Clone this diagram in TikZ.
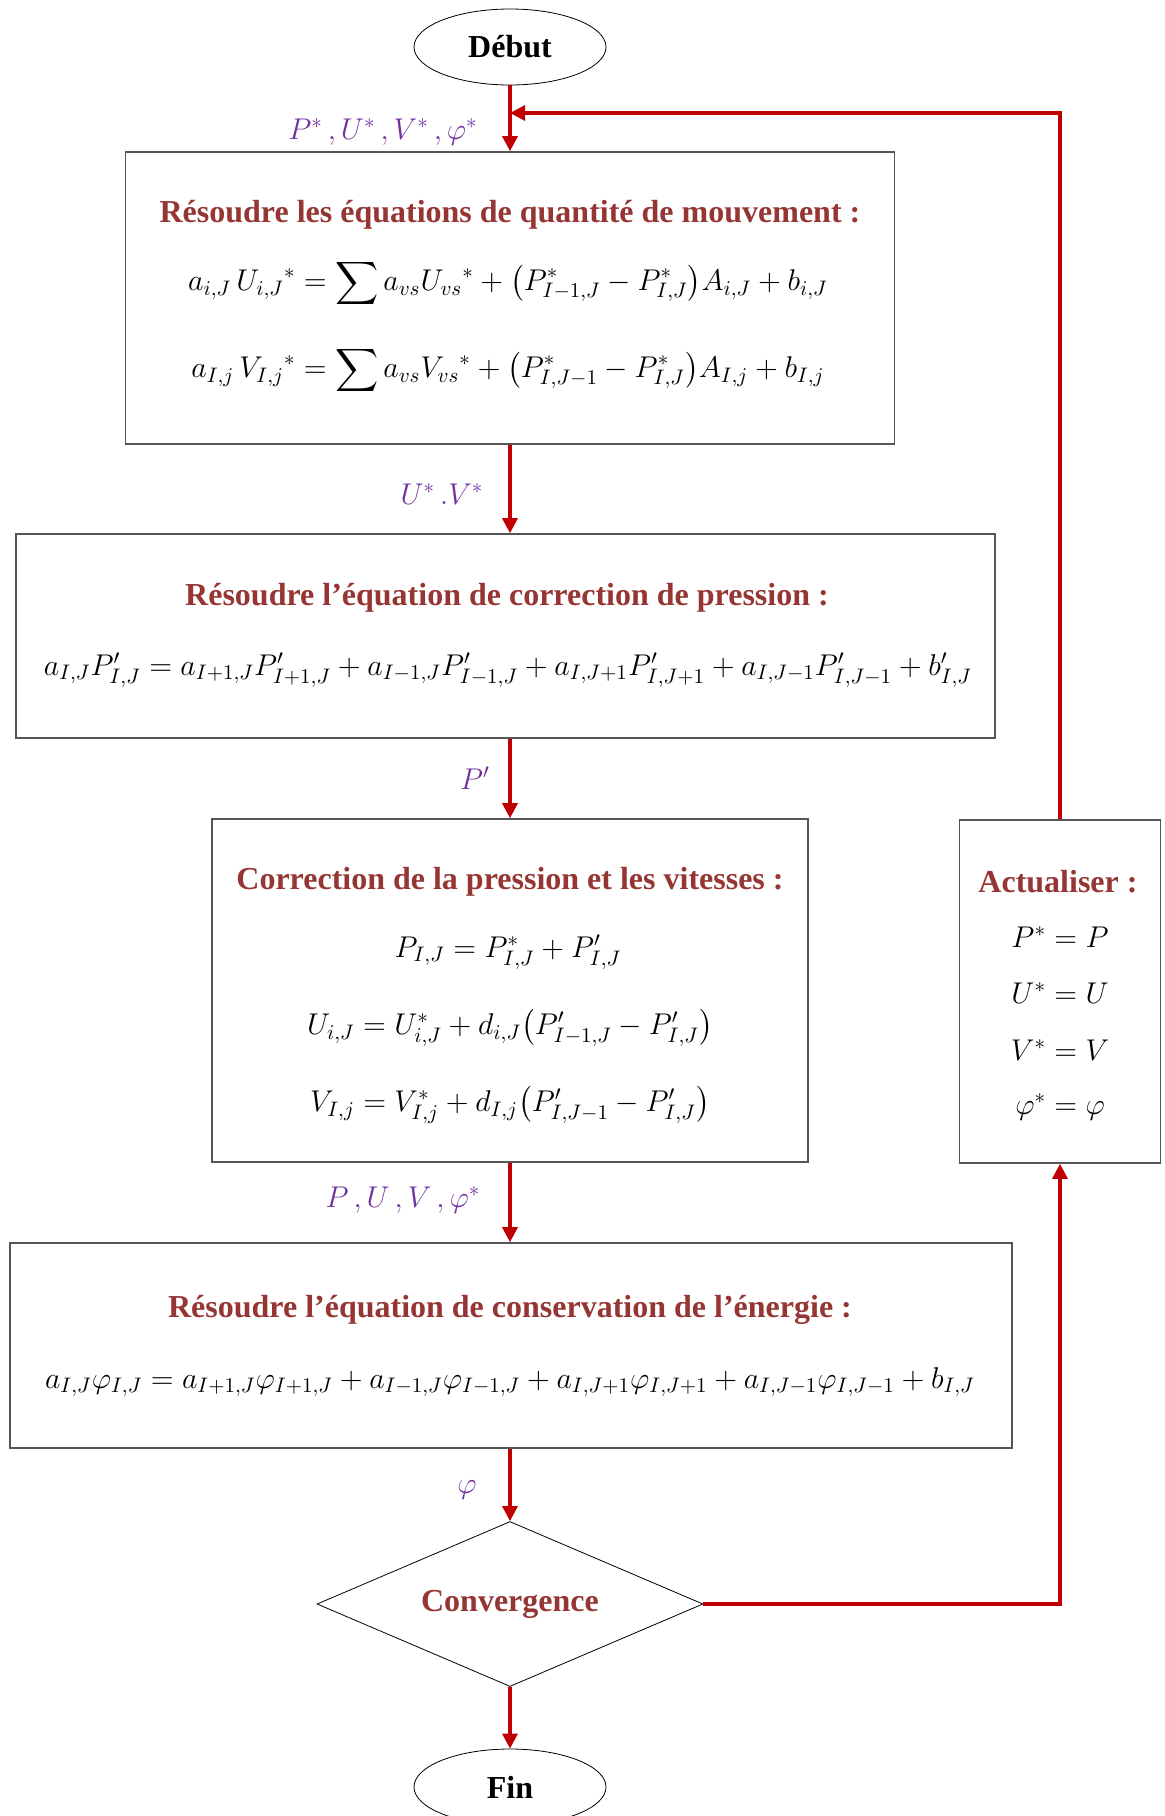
\RequirePackage{fix-cm}
\documentclass[tikz,border=0pt]{standalone}
\usepackage{amsmath,amssymb}
\usepackage{fontspec}
\setmainfont{Liberation Serif}
\usepackage{tikz}
\usetikzlibrary{shapes.geometric,arrows.meta,positioning,calc}
\usepackage{xcolor}
\definecolor{flowred}{RGB}{192,0,0}
\definecolor{titlered}{RGB}{150,54,52}
\definecolor{varpurple}{RGB}{112,48,160}
\definecolor{boxgray}{RGB}{85,85,85}

\begin{document}
\begin{tikzpicture}[
    x=0.5pt, y=-0.5pt,
    terminal/.style={ellipse, draw, thin, minimum width=96pt, minimum height=38pt, inner sep=0pt, font=\fontsize{16}{19}\selectfont\bfseries},
    block/.style={rectangle, draw=boxgray, line width=0.8pt},
    decision/.style={diamond, draw, thin, aspect=2.3, inner sep=0pt, minimum width=193pt, minimum height=82.5pt, font=\fontsize{16}{19}\selectfont\bfseries, text=titlered},
    heading/.style={font=\fontsize{16}{19}\selectfont\bfseries, text=titlered},
    eqn/.style={font=\fontsize{15}{18}\selectfont},
    varlabel/.style={font=\fontsize{15}{18}\selectfont, text=varpurple},
    arrow/.style={-{Triangle[length=7.5pt,width=7.5pt]}, line width=1.6pt, draw=flowred},
    link/.style={line width=1.6pt, draw=flowred}
]
    \useasboundingbox (0,0) rectangle (1165,1816);

    \node[terminal] (debut) at (510,47) {Début};

    % Momentum equations
    \node[block, minimum width=384.5pt, minimum height=146pt] (qdm) at (510,298) {};
    \node[heading] (qdmtitle) at (510,215) {Résoudre les équations de quantité de mouvement :};
    \node[eqn] (qdmu) at (508,283) {$a_{i,J}\,{U_{i,J}}^{*} = \displaystyle\sum a_{vs}{U_{vs}}^{*} + \bigl(P^{*}_{I-1,J} - P^{*}_{I,J}\bigr)A_{i,J} + b_{i,J}$};
    \node[eqn] (qdmv) at (508,370) {$a_{I,j}\,{V_{I,j}}^{*} = \displaystyle\sum a_{vs}{V_{vs}}^{*} + \bigl(P^{*}_{I,J-1} - P^{*}_{I,J}\bigr)A_{I,j} + b_{I,j}$};

    % Pressure correction equation
    \node[block, minimum width=489.5pt, minimum height=102pt] (pcor) at (505.5,636) {};
    \node[heading] (pcortitle) at (507,598) {Résoudre l’équation de correction de pression :};
    \node[eqn] (pcoreq) at (508,670) {$a_{I,J}P^{\prime}_{I,J} = a_{I+1,J}P^{\prime}_{I+1,J} + a_{I-1,J}P^{\prime}_{I-1,J} + a_{I,J+1}P^{\prime}_{I,J+1} + a_{I,J-1}P^{\prime}_{I,J-1} + b^{\prime}_{I,J}$};

    % Corrections
    \node[block, minimum width=298pt, minimum height=171.5pt] (corr) at (510,990.5) {};
    \node[heading] (corrtitle) at (510,882) {Correction de la pression et les vitesses :};
    \node[eqn] (corrp) at (508,952) {$P_{I,J} = P^{*}_{I,J} + P^{\prime}_{I,J}$};
    \node[eqn] (corru) at (510,1028) {$U_{i,J} = U^{*}_{i,J} + d_{i,J}\bigl(P^{\prime}_{I-1,J} - P^{\prime}_{I,J}\bigr)$};
    \node[eqn] (corrv) at (510,1105) {$V_{I,j} = V^{*}_{I,j} + d_{I,j}\bigl(P^{\prime}_{I,J-1} - P^{\prime}_{I,J}\bigr)$};

    % Update
    \node[block, minimum width=100.5pt, minimum height=171.5pt] (act) at (1060,991.5) {};
    \node[heading] (acttitle) at (1058,882) {Actualiser :};
    \node[eqn] (actp) at (1060,937) {$P^{*} = P$};
    \node[eqn] (actu) at (1060,993) {$U^{*} = U$};
    \node[eqn] (actv) at (1060,1050) {$V^{*} = V$};
    \node[eqn] (actphi) at (1060,1107) {$\varphi^{*} = \varphi$};

    % Energy equation
    \node[block, minimum width=501pt, minimum height=102.5pt] (ener) at (511,1345.5) {};
    \node[heading] (enertitle) at (510,1310) {Résoudre l’équation de conservation de l’énergie :};
    \node[eqn] (enereq) at (510,1382) {$a_{I,J}\varphi_{I,J} = a_{I+1,J}\varphi_{I+1,J} + a_{I-1,J}\varphi_{I-1,J} + a_{I,J+1}\varphi_{I,J+1} + a_{I,J-1}\varphi_{I,J-1} + b_{I,J}$};

    \node[decision] (conv) at (510,1604) {Convergence};
    \node[terminal] (fin) at (510,1787) {Fin};

    % Variables passed along
    \node[varlabel] (vstar) at (383,132) {$P^{*}\,,U^{*}\,,V^{*}\,,\varphi^{*}$};
    \node[varlabel] (uv) at (442,494) {$U^{*}\,.V^{*}$};
    \node[varlabel] (pprime) at (475,778) {$P^{\prime}$};
    \node[varlabel] (puv) at (403,1200) {$P\,,U\,,V\,,\varphi^{*}$};
    \node[varlabel] (phi) at (467,1490) {$\varphi$};

    \coordinate (join) at (510,113);

    \draw[arrow] (debut) -- (qdm);
    \draw[arrow] (qdm) -- (qdm |- pcor.north);
    \draw[arrow] (qdm |- pcor.south) -- (corr);
    \draw[arrow] (corr) -- (corr |- ener.north);
    \draw[arrow] (conv |- ener.south) -- (conv);
    \draw[arrow] (conv) -- (fin);

    % Loop back
    \draw[arrow] (conv.east) -| (act.south);
    \draw[arrow] (act.north) |- (join);
\end{tikzpicture}
\end{document}
